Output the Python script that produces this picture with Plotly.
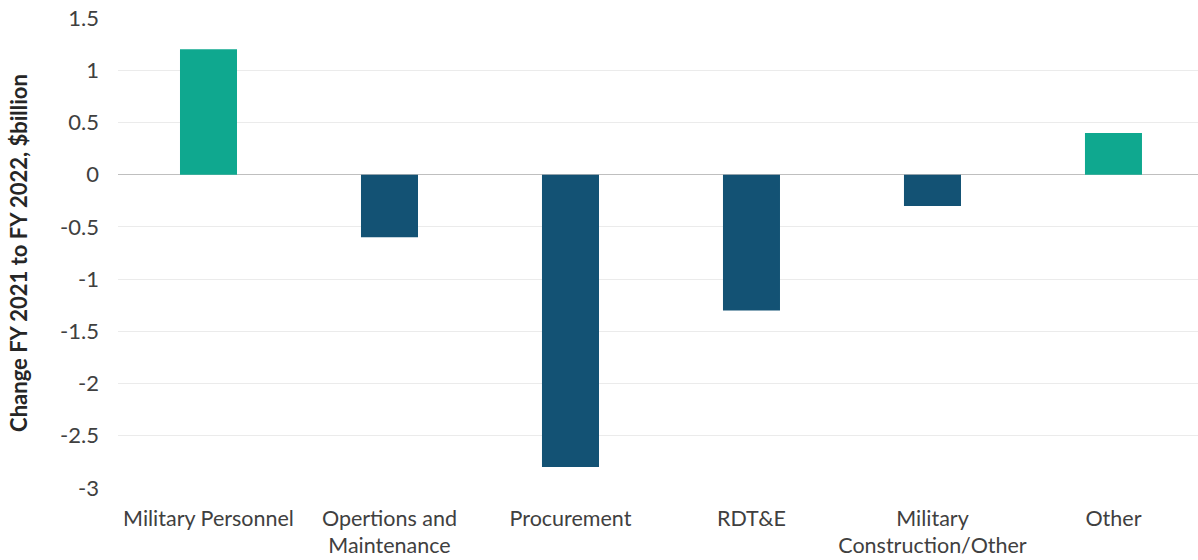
import plotly.graph_objects as go

categories = ["Military Personnel", "Opertions and<br>Maintenance", "Procurement", "RDT&E",
              "Military<br>Construction/Other", "Other"]
values = [1.2, -0.6, -2.8, -1.3, -0.3, 0.4]
tick_vals = [1.5, 1, 0.5, 0, -0.5, -1, -1.5, -2, -2.5, -3]
tick_text = ["1.5", "1", "0.5", "0", "-0.5", "-1", "-1.5", "-2", "-2.5", "-3"]

colors = ["#0FA88F" if v > 0 else "#135274" for v in values]

fig = go.Figure(go.Bar(x=categories, y=values, marker=dict(color=colors, line=dict(width=0)),
                       width=0.315))

fig.update_layout(
    width=1198, height=560,
    margin=dict(l=118, r=0, t=18, b=72),
    plot_bgcolor="white", paper_bgcolor="white",
    font=dict(family="Lato, Open Sans, sans-serif", size=22, color="#404040"),
    showlegend=False,
    xaxis=dict(range=[-0.5, 5.467], showgrid=False, showline=False, ticks="",
               ticklabelstandoff=15, automargin=False,
               tickfont=dict(size=21.5, color="#404040")),
    yaxis=dict(range=[-3, 1.5], tickvals=tick_vals, ticktext=tick_text,
               showgrid=True, gridcolor="#ebebeb", gridwidth=1,
               zeroline=True, zerolinecolor="#bfbfbf", zerolinewidth=1,
               ticks="", ticklabelstandoff=18, automargin=False,
               tickfont=dict(size=22, color="#404040"),
               title=dict(text="<b>Change FY 2021 to FY 2022, $billion</b>",
                          font=dict(size=22, color="#262626"), standoff=26)),
)

fig.write_html("out.html")
